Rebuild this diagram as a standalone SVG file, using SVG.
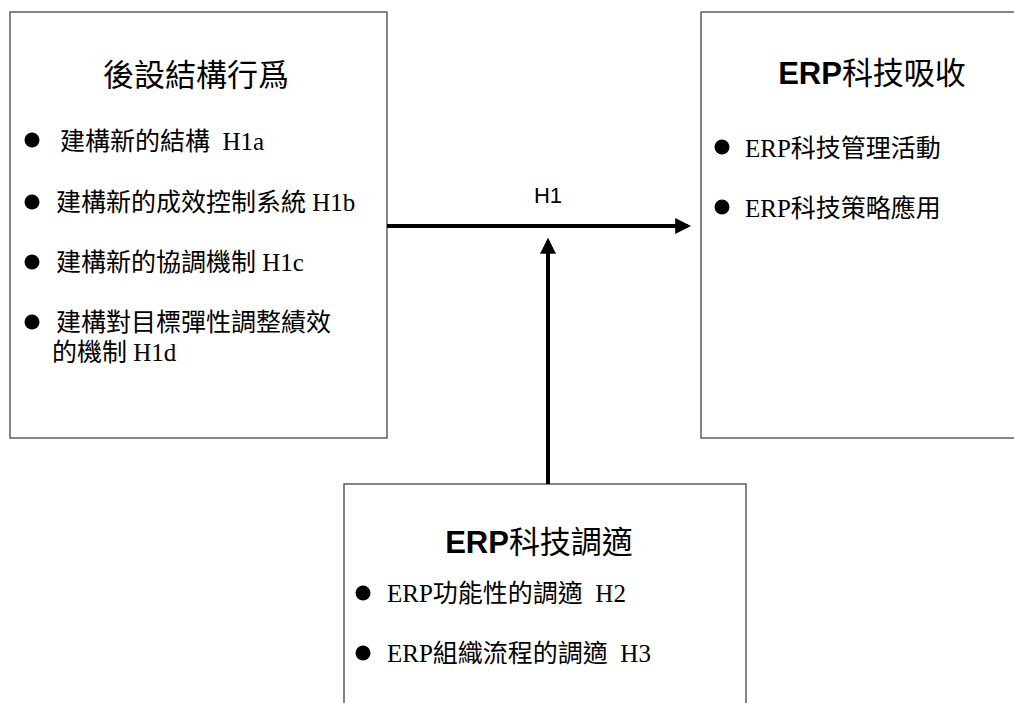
<svg xmlns="http://www.w3.org/2000/svg" width="1014" height="703" viewBox="0 0 1014 703">
<style>
.box{fill:#fff;stroke:#444;stroke-width:1.3}
.title{font-family:"Liberation Sans","Noto Sans CJK TC",sans-serif;font-size:31px;fill:#000}
.b{font-weight:bold}
.item{font-family:"Liberation Serif","Noto Sans CJK TC",serif;font-size:25px;fill:#000}
.lbl{font-family:"Liberation Sans",sans-serif;font-size:22px;fill:#000}
.dot{fill:#000}
.conn{stroke:#000;stroke-width:4;fill:none}
</style>
<defs>
<marker id="ah" markerWidth="4" markerHeight="4" refX="3.2" refY="2" orient="auto" markerUnits="strokeWidth">
<path d="M0,0 L4,2 L0,4 Z" fill="#000"/>
</marker>
</defs>
<rect width="1014" height="703" fill="#fff"/>
<g id="node-left">
<rect class="box" x="10" y="12" width="377" height="426"/>
<text class="title" x="196" y="86" text-anchor="middle">後設結構行爲</text>
<circle class="dot" cx="32" cy="140" r="7.5"/>
<text class="item" x="60" y="150" xml:space="preserve">建構新的結構  H1a</text>
<circle class="dot" cx="32" cy="202" r="7.5"/>
<text class="item" x="56" y="211">建構新的成效控制系統 H1b</text>
<circle class="dot" cx="32" cy="262" r="7.5"/>
<text class="item" x="56" y="271">建構新的協調機制 H1c</text>
<circle class="dot" cx="32" cy="322" r="7.5"/>
<text class="item" x="56" y="331">建構對目標彈性調整績效</text>
<text class="item" x="52" y="361">的機制 H1d</text>
</g>
<g id="node-right">
<rect class="box" x="701" y="12" width="330" height="426"/>
<text class="title" x="872" y="84" text-anchor="middle"><tspan class="b">ERP</tspan>科技吸收</text>
<circle class="dot" cx="722" cy="147" r="7.5"/>
<text class="item" x="745" y="157">ERP科技管理活動</text>
<circle class="dot" cx="722" cy="207" r="7.5"/>
<text class="item" x="745" y="217">ERP科技策略應用</text>
</g>
<g id="node-bottom">
<rect class="box" x="344" y="484" width="402" height="240"/>
<text class="title" x="539" y="553" text-anchor="middle"><tspan class="b">ERP</tspan>科技調適</text>
<circle class="dot" cx="363" cy="593" r="7.5"/>
<text class="item" x="387" y="602" xml:space="preserve">ERP功能性的調適  H2</text>
<circle class="dot" cx="363" cy="653" r="7.5"/>
<text class="item" x="387" y="662" xml:space="preserve">ERP組織流程的調適  H3</text>
</g>
<g id="connectors">
<line class="conn" x1="387" y1="226" x2="688" y2="226" marker-end="url(#ah)"/>
<line class="conn" x1="548" y1="484" x2="548" y2="241" marker-end="url(#ah)"/>
<text class="lbl" x="548" y="203" text-anchor="middle">H1</text>
</g>
</svg>
